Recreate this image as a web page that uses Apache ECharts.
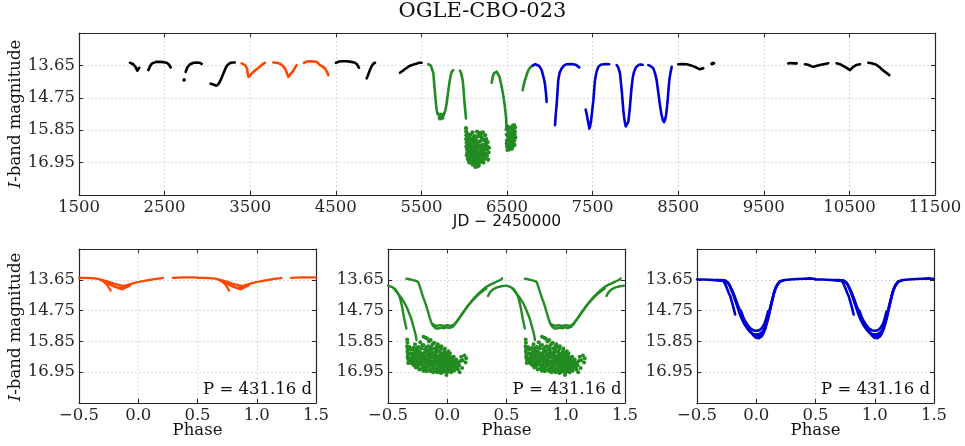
<!DOCTYPE html>
<html><head><meta charset="utf-8">
<script src="https://cdn.jsdelivr.net/npm/echarts@6/dist/echarts.min.js"></script>
<style>html,body{margin:0;padding:0;background:#fff}#c{width:965px;height:446px}</style>
</head><body><div id="c"></div>
<script>
// ---------------- DATA ----------------
const chartTitle = 'OGLE-CBO-023';
const periodText = 'P = 431.16 d';
const jdAxisName = 'JD \u2212 2450000';
const phaseAxisName = 'Phase';

// Top panel: JD-2450000 vs I magnitude, segments per colour
const blk1 = [[2096,13.56],[2130,13.60],[2160,13.70],[2181,13.83],[2195,13.78],[2204,13.73]];
const blk2 = [[2310,13.81],[2330,13.68],[2350,13.59],[2368,13.55],[2400,13.53],[2446,13.53],[2490,13.54],[2524,13.56],[2550,13.62],[2571,13.72]];
const blk3 = [[2727,14.15],[2729,14.13]];
const blk4 = [[2746,13.87],[2765,13.72],[2797,13.61],[2840,13.56],[2875,13.55],[2910,13.56],[2933,13.60]];
const blk5 = [[3038,14.27],[3070,14.30],[3105,14.34],[3130,14.28],[3150,14.18],[3170,14.04],[3190,13.90],[3210,13.76],[3230,13.65],[3260,13.58],[3290,13.55],[3320,13.55]];
const blk6 = [[4502,13.56],[4540,13.52],[4580,13.51],[4627,13.51],[4680,13.53],[4724,13.56],[4750,13.62],[4771,13.73]];
const blk7 = [[4861,14.09],[4880,13.95],[4900,13.80],[4919,13.67],[4940,13.59],[4958,13.56]];
const blk8 = [[5250,13.90],[5280,13.84],[5320,13.75],[5360,13.67],[5400,13.63],[5440,13.59],[5475,13.56],[5503,13.56]];
const blk9 = [[8501,13.61],[8550,13.60],[8599,13.61],[8650,13.65],[8696,13.70],[8730,13.75],[8754,13.78],[8775,13.77],[8793,13.75]];
const blk10 = [[8895,13.59],[8912,13.58]];
const blk11 = [[9786,13.58],[9820,13.57],[9850,13.58],[9884,13.58]];
const blk12 = [[9981,13.61],[10020,13.63],[10050,13.67],[10078,13.70],[10110,13.67],[10156,13.64],[10200,13.61],[10253,13.58]];
const blk13 = [[10351,13.58],[10400,13.62],[10448,13.70],[10480,13.76],[10507,13.81],[10525,13.75],[10545,13.70],[10580,13.64],[10624,13.61]];
const blk14 = [[10721,13.56],[10760,13.58],[10799,13.61],[10830,13.66],[10857,13.72],[10885,13.80],[10916,13.87],[10940,13.92],[10966,13.98]];

const org1 = [[3400,13.58],[3440,13.64],[3462,13.75],[3472,13.95],[3480,14.04],[3510,13.95],[3545,13.85],[3580,13.77],[3614,13.69],[3645,13.61],[3673,13.56]];
const org2 = [[3770,13.55],[3810,13.56],[3848,13.59],[3880,13.66],[3907,13.76],[3930,13.92],[3945,14.04],[3975,13.93],[4004,13.83],[4025,13.72],[4043,13.64]];
const org3 = [[4128,13.56],[4160,13.52],[4199,13.51],[4240,13.52],[4277,13.53],[4300,13.58],[4315,13.64],[4345,13.69],[4374,13.75],[4395,13.86],[4413,13.98]];

const grn1 = [[5581,13.61],[5610,13.66],[5628,13.72],[5640,13.92],[5650,14.30],[5659,14.60],[5670,14.95],[5678,15.17],[5690,15.30],[5698,15.36],[5720,15.40],[5737,15.40],[5755,15.38],[5768,15.33],[5782,15.15],[5795,14.94],[5810,14.60],[5826,14.26],[5840,14.02],[5854,13.87],[5872,13.81]];
const grn2 = [[5951,13.83],[5965,13.92],[5982,14.15],[5992,14.45],[6001,14.83],[6011,15.15],[6021,15.45]];
const grn3 = [[6321,14.24],[6335,14.02],[6348,13.92],[6365,13.87],[6379,13.86],[6395,13.92],[6410,14.02],[6425,14.20],[6438,14.38],[6452,14.60],[6465,14.83],[6477,15.10],[6488,15.40],[6496,15.80]];
const grn4 = [[6683,14.49],[6695,14.32],[6710,14.15],[6730,13.97],[6749,13.81],[6770,13.72],[6789,13.67],[6800,13.65]];
const grnBottomTop = [[5695,15.28],[5705,15.44],[5715,15.47],[5725,15.30],[5735,15.46],[5745,15.32],[5752,15.44],[5765,15.28]];
const grnCloud1 = [[6021,15.78],[6023,15.90],[6025,16.02],[6022,16.15],[6028,16.28],[6026,16.40],[6032,16.50],[6036,16.62],[6040,16.35],[6045,16.10],[6048,16.75],[6055,16.45],[6058,16.22],[6064,16.85],[6068,16.58],[6072,16.00],[6076,16.32],[6082,16.95],[6086,16.68],[6090,16.18],[6095,16.45],[6100,17.02],[6104,16.80],[6108,16.28],[6112,16.58],[6117,16.05],[6121,16.90],[6126,16.40],[6130,17.10],[6134,16.70],[6138,16.15],[6143,16.52],[6147,16.95],[6152,16.30],[6156,16.82],[6160,16.05],[6165,16.62],[6170,17.05],[6174,16.42],[6178,15.95],[6183,16.75],[6188,16.22],[6193,16.90],[6197,16.50],[6202,16.10],[6207,16.68],[6212,16.35],[6217,15.92],[6222,16.58],[6228,16.80],[6233,16.20],[6238,16.45],[6244,16.02],[6250,16.65],[6255,16.30],[6262,16.50],[6270,16.40],[6285,16.60],[6052,16.88],[6080,16.55],[6115,16.78],[6140,16.88],[6185,16.62],[6215,16.85],[6240,16.70],
[6030,16.70],[6034,16.18],[6038,15.98],[6042,16.82],[6046,16.55],[6050,16.25],[6054,16.62],[6058,16.95],[6062,16.38],[6066,16.12],[6070,16.72],[6074,16.48],[6078,16.88],[6084,16.25],[6088,16.42],[6092,16.78],[6096,16.62],[6102,16.38],[6106,16.12],[6110,16.92],[6114,16.48],[6119,16.68],[6124,16.22],[6128,16.85],[6132,16.55],[6136,16.98],[6141,16.38],[6145,16.72],[6150,16.58],[6154,17.08],[6158,16.45],[6162,16.88],[6167,16.25],[6172,16.75],[6176,16.60],[6180,16.95],[6186,16.38],[6190,16.05],[6195,16.70],[6200,16.85],[6205,16.40],[6210,16.58],[6220,16.15],[6225,16.95],[6230,16.55],[6236,16.35],[6242,16.82],[6248,16.48],[6258,16.15],[6266,16.72],[6275,16.25],[6280,16.85],[6290,16.45],[6043,16.45],[6060,16.05],[6098,15.92],[6150,15.90],[6200,15.96]];
const grnCloud2 = [[6496,15.82],[6498,16.00],[6500,16.20],[6502,16.40],[6505,16.52],[6510,16.30],[6514,16.10],[6518,15.90],[6522,16.45],[6526,16.22],[6530,15.98],[6535,16.35],[6540,15.78],[6545,16.15],[6550,16.42],[6555,15.92],[6560,16.28],[6565,15.70],[6570,16.05],[6575,16.38],[6580,15.85],[6585,16.20],[6590,16.00],[6594,15.75],
[6497,16.30],[6503,15.72],[6507,16.00],[6512,16.45],[6516,16.25],[6520,15.75],[6524,16.05],[6528,16.50],[6533,16.15],[6538,16.42],[6542,15.95],[6548,16.28],[6552,16.05],[6558,16.48],[6562,16.15],[6568,15.85],[6572,16.25],[6578,16.05],[6583,15.68],[6588,16.35],[6592,15.90],[6597,16.10]];

const blu1 = [[6800,13.66],[6815,13.63],[6830,13.61],[6846,13.62],[6870,13.66],[6890,13.73],[6905,13.81],[6920,13.98],[6935,14.15],[6944,14.30],[6955,14.58],[6963,14.89]];
const blu2 = [[7061,15.68],[7070,15.30],[7081,14.94],[7090,14.55],[7099,14.15],[7115,13.90],[7139,13.75],[7165,13.66],[7197,13.61],[7240,13.60],[7275,13.61],[7310,13.64],[7345,13.72]];
const blu3 = [[7419,15.15],[7431,15.30],[7440,15.45],[7450,15.60],[7462,15.80],[7472,15.70],[7481,15.55],[7495,15.20],[7509,14.83],[7518,14.50],[7528,14.15],[7545,13.88],[7567,13.70],[7595,13.63],[7625,13.61],[7660,13.60],[7695,13.61]];
const blu4 = [[7781,13.64],[7800,13.72],[7820,13.92],[7830,14.20],[7840,14.49],[7850,14.85],[7859,15.17],[7868,15.40],[7878,15.60],[7888,15.72],[7897,15.78],[7907,15.72],[7917,15.57],[7926,15.35],[7936,15.06],[7946,14.70],[7956,14.38],[7970,14.05],[7984,13.87],[8005,13.72],[8034,13.64],[8060,13.62],[8085,13.63]];
const blu5 = [[8151,13.64],[8180,13.68],[8209,13.75],[8230,13.92],[8248,14.15],[8262,14.45],[8279,14.83],[8292,15.10],[8306,15.34],[8320,15.50],[8334,15.58],[8346,15.50],[8358,15.34],[8368,15.10],[8377,14.83],[8386,14.50],[8396,14.15],[8410,13.90],[8424,13.70]];

// Phase panels (phase in [-0.5,0.5), drawn again at phase+1)
const orgPhA = [[-0.5,13.58],[-0.45,13.58],[-0.4,13.59],[-0.35,13.61],[-0.3,13.66],[-0.25,13.72],[-0.2,13.79],[-0.15,13.85],[-0.12,13.87],[-0.08,13.82],[-0.04,13.77],[0,13.73],[0.05,13.69],[0.1,13.65],[0.15,13.62],[0.2,13.59],[0.21,13.58]];
const orgPhB = [[0.29,13.58],[0.33,13.57],[0.38,13.56],[0.43,13.56],[0.48,13.56],[0.499,13.57]];
const orgPhC = [[-0.32,13.65],[-0.29,13.72],[-0.26,13.84],[-0.245,13.95],[-0.233,14.04]];
const orgPhD = [[-0.3,13.68],[-0.25,13.80],[-0.2,13.90],[-0.16,13.96],[-0.135,13.99],[-0.1,13.92],[-0.07,13.86]];
const orgPhE = [[-0.28,13.70],[-0.22,13.84],[-0.18,13.92],[-0.14,13.93],[-0.1,13.88],[-0.06,13.81]];

const grnPhA = [[-0.5,13.86],[-0.47,13.90],[-0.44,13.98],[-0.42,14.10],[-0.40,14.28],[-0.387,14.50],[-0.375,14.75],[-0.365,15.00],[-0.355,15.20],[-0.345,15.39]];
const grnPhB = [[-0.45,13.96],[-0.42,14.12],[-0.39,14.28],[-0.36,14.48],[-0.34,14.65],[-0.32,14.86],[-0.302,15.06],[-0.288,15.28],[-0.275,15.48],[-0.265,15.65],[-0.26,15.80]];
const grnPhT = [[-0.345,13.61],[-0.32,13.63],[-0.29,13.66],[-0.265,13.69],[-0.247,13.72],[-0.235,13.85],[-0.22,14.05],[-0.205,14.25],[-0.19,14.42],[-0.176,14.60],[-0.162,14.80],[-0.148,15.00],[-0.135,15.17],[-0.12,15.30],[-0.10,15.38],[-0.078,15.39],[-0.05,15.36],[-0.03,15.38],[-0.007,15.35],[0.02,15.37],[0.049,15.32],[0.075,15.18],[0.105,15.00],[0.135,14.82],[0.162,14.65],[0.19,14.50],[0.217,14.35],[0.245,14.22],[0.274,14.10],[0.30,14.00],[0.33,13.90],[0.36,13.83],[0.386,13.78],[0.42,13.71],[0.457,13.64],[0.462,13.60]];
const grnPhT2 = [[-0.12,15.24],[-0.09,15.30],[-0.06,15.27],[-0.03,15.30],[0.0,15.27],[0.03,15.30],[0.06,15.24],[0.09,15.08],[0.12,14.90],[0.15,14.72],[0.18,14.55],[0.21,14.40],[0.24,14.27],[0.27,14.15],[0.30,14.05],[0.33,13.95]];
const grnPhU = [[0.344,14.23],[0.36,14.10],[0.386,13.99],[0.42,13.92],[0.457,13.88],[0.49,13.86]];
const grnPhCloud = [[-0.338,15.78],[-0.336,15.90],[-0.339,16.02],[-0.335,16.12],[-0.337,16.22],[-0.333,16.33],[-0.334,16.42],[-0.328,16.50],[-0.322,16.56],[-0.312,16.60],[-0.30,16.63],
[-0.318,16.05],[-0.309,16.28],[-0.305,16.45],[-0.296,16.12],[-0.291,16.37],[-0.287,16.55],[-0.282,16.70],[-0.278,16.22],[-0.272,15.95],[-0.268,16.48],[-0.262,16.62],[-0.258,16.30],[-0.251,16.08],[-0.247,16.75],[-0.243,16.52],[-0.238,16.20],[-0.232,16.40],[-0.228,15.88],[-0.224,16.65],[-0.219,16.10],[-0.214,16.82],[-0.21,16.35],[-0.205,16.55],[-0.20,15.98],[-0.196,16.72],[-0.191,16.25],[-0.187,16.45],[-0.182,15.72],[-0.178,16.60],[-0.173,16.05],[-0.169,16.88],[-0.164,16.33],[-0.16,16.50],[-0.155,15.85],[-0.151,16.70],[-0.146,16.15],[-0.142,16.42],[-0.138,16.92],[-0.133,16.27],[-0.129,16.60],[-0.124,15.95],[-0.12,16.78],[-0.115,16.38],[-0.111,16.52],[-0.106,16.10],[-0.102,16.85],[-0.097,16.30],[-0.093,16.66],[-0.088,16.02],[-0.084,16.95],[-0.079,16.45],[-0.075,16.20],[-0.07,16.75],[-0.066,16.55],[-0.061,16.35],[-0.057,16.88],[-0.052,16.12],[-0.048,16.62],[-0.043,16.42],[-0.039,16.95],[-0.034,16.28],[-0.03,16.72],[-0.025,16.50],[-0.021,16.85],[-0.016,16.35],[-0.012,16.62],[-0.007,17.05],[-0.003,16.45],[0.002,16.80],[0.006,16.55],[0.011,16.92],[0.015,16.38],[0.02,16.70],[0.025,16.50],[0.03,16.85],[0.035,16.62],[0.04,16.42],[0.046,16.75],[0.052,16.55],[0.058,16.90],[0.064,16.68],
[0.075,16.50],[0.085,16.78],[0.095,16.60],[0.105,16.95],[0.118,16.40],[0.13,16.52],[0.145,16.35],[0.155,16.60],[0.16,16.45],
[-0.20,15.68],[-0.17,15.75],[-0.14,15.80],[-0.11,15.90],[-0.08,15.95],[-0.05,16.02],[-0.02,16.10],[0.01,16.20],
[-0.29,16.45],[-0.265,16.78],[-0.245,16.35],[-0.225,16.48],[-0.203,16.78],[-0.185,16.62],[-0.165,16.72],[-0.148,16.28],[-0.128,16.82],[-0.108,16.68],[-0.09,16.50],[-0.072,16.62],[-0.055,16.75],[-0.036,16.58],[-0.018,16.70],[0.0,16.62],[0.018,16.55],[0.038,16.80],[-0.255,16.18],[-0.215,16.28],[-0.175,16.20],[-0.135,16.15],[-0.095,16.22],[-0.06,16.25],
[-0.33,16.62],[-0.325,16.30],[-0.318,16.45],[-0.31,16.15],[-0.302,16.52],[-0.298,16.30],[-0.292,16.60],[-0.284,16.08],[-0.28,16.45],[-0.274,16.62],[-0.27,16.32],[-0.264,16.10],[-0.26,16.40],[-0.254,16.68],[-0.25,16.52],[-0.244,16.05],[-0.24,16.65],[-0.236,16.85],[-0.23,16.25],[-0.226,16.55],[-0.22,16.38],[-0.216,16.68],[-0.212,16.00],[-0.207,16.45],[-0.202,16.90],[-0.198,16.32],[-0.193,16.58],[-0.189,16.12],[-0.184,16.80],[-0.18,16.40],[-0.176,16.92],[-0.171,16.50],[-0.167,16.18],[-0.162,16.75],[-0.158,16.02],[-0.153,16.60],[-0.149,16.38],[-0.144,16.85],[-0.14,16.55],[-0.136,16.05],[-0.131,16.72],[-0.127,16.42],[-0.122,16.25],[-0.118,16.95],[-0.113,16.58],[-0.109,16.35],[-0.104,16.75],[-0.10,16.48],[-0.095,16.90],[-0.091,16.15],[-0.086,16.60],[-0.082,16.38],[-0.077,16.82],[-0.073,16.05],[-0.068,16.92],[-0.064,16.70],[-0.059,16.48],[-0.054,16.98],[-0.05,16.30],[-0.045,16.80],[-0.041,16.55],[-0.036,16.88],[-0.032,16.42],[-0.027,16.65],[-0.023,16.20],[-0.018,16.92],[-0.014,16.52],[-0.009,16.78],[-0.005,16.30],[0.0,16.95],[0.004,16.68],[0.008,16.42],[0.013,16.75],[0.018,16.88],[0.023,16.28],[0.028,16.62],[0.033,16.95],[0.038,16.50],[0.043,16.85],[0.049,16.65],[0.055,16.40],[0.061,16.80],[0.068,16.55],[0.072,16.72],[0.08,16.62],[0.09,16.85],[0.10,16.70],[0.11,16.55],[0.125,16.80]];

const bluPhA = [[-0.5,13.64],[-0.45,13.64],[-0.4,13.65],[-0.35,13.66],[-0.3,13.67],[-0.26,13.70],[-0.235,13.78],[-0.22,13.88],[-0.2,14.05],[-0.178,14.29],[-0.156,14.55],[-0.136,14.77],[-0.12,14.95],[-0.108,15.06],[-0.09,15.20],[-0.066,15.35],[-0.045,15.52],[-0.024,15.62],[-0.005,15.72],[0.005,15.75],[0.02,15.74],[0.035,15.70],[0.047,15.66],[0.062,15.55],[0.075,15.42],[0.09,15.20],[0.103,15.00],[0.117,14.72],[0.131,14.47],[0.145,14.20],[0.159,13.99],[0.18,13.80],[0.201,13.70],[0.24,13.66],[0.285,13.64],[0.35,13.62],[0.40,13.61],[0.454,13.60],[0.499,13.62]];
const bluPhB = [[-0.3,13.66],[-0.26,13.68],[-0.24,13.74],[-0.225,13.85],[-0.21,14.00],[-0.19,14.20],[-0.17,14.45],[-0.15,14.70],[-0.13,14.95],[-0.11,15.15],[-0.09,15.30],[-0.07,15.42],[-0.05,15.52],[-0.03,15.58],[-0.01,15.60],[0.01,15.60],[0.03,15.58],[0.05,15.52],[0.065,15.42],[0.08,15.25],[0.095,15.05],[0.11,14.82],[0.125,14.55],[0.14,14.30],[0.155,14.05],[0.175,13.85],[0.20,13.72],[0.23,13.67]];
const bluPhC = [[-0.22,13.90],[-0.2,14.10],[-0.18,14.35],[-0.16,14.60],[-0.14,14.85],[-0.12,15.05],[-0.1,15.20],[-0.08,15.32],[-0.06,15.45],[-0.04,15.55],[-0.02,15.65],[0.0,15.68],[0.02,15.66],[0.04,15.60],[0.06,15.50],[0.075,15.35],[0.09,15.12],[0.105,14.88],[0.12,14.60],[0.135,14.35],[0.15,14.10],[0.17,13.88],[0.19,13.76]];
const bluPhD = [[-0.33,13.66],[-0.30,13.67],[-0.276,13.70],[-0.26,13.82],[-0.245,13.98],[-0.232,14.12],[-0.22,14.23],[-0.205,14.45],[-0.19,14.68],[-0.178,14.89]];
const bluPhE = [[-0.13,14.75],[-0.11,14.98],[-0.09,15.15],[-0.07,15.28],[-0.05,15.38],[-0.03,15.44],[-0.01,15.47],[0.01,15.47],[0.03,15.44],[0.05,15.36],[0.07,15.22],[0.085,15.02],[0.10,14.78]];

// ---------------- CHART ----------------
const C_BLK = '#000000', C_ORG = '#ff4500', C_GRN = '#228b22', C_BLU = '#0000cd';
const SERIF = 'DejaVu Serif', SANS = 'DejaVu Sans';
const AX = '#262626';
const FS = 16.5;

const grids = [
  {left: 79, top: 33, width: 856, height: 162},
  {left: 79, top: 249, width: 237, height: 154},
  {left: 388, top: 249, width: 237, height: 154},
  {left: 697, top: 249, width: 237, height: 154}
].map(g => Object.assign({containLabel: false, outerBoundsMode: 'none'}, g));

function xAx(g, min, max, interval, fmt, mirror) {
  return {type: 'value', gridIndex: g, min, max, interval, position: mirror ? 'top' : 'bottom',
    axisLine: {show: true, onZero: false, lineStyle: {color: AX, width: 1.2}},
    axisTick: {show: true, inside: true, length: 4, lineStyle: {color: AX, width: 1}},
    axisLabel: {show: !mirror, formatter: fmt, color: AX, fontFamily: SERIF, fontSize: FS, margin: 4,
      showMinLabel: true, showMaxLabel: true, hideOverlap: false},
    splitLine: {show: !mirror, lineStyle: {color: '#d0d0d0', type: [2, 2], width: 0.8}}};
}
function yAx(g, mirror) {
  return {type: 'value', gridIndex: g, min: 12.55, max: 18.05, interval: 1.1, inverse: true,
    position: mirror ? 'right' : 'left',
    axisLine: {show: true, onZero: false, lineStyle: {color: AX, width: 1.2}},
    axisTick: {show: true, inside: true, length: 4, lineStyle: {color: AX, width: 1}},
    axisLabel: {show: !mirror, color: AX, fontFamily: SERIF, fontSize: FS, margin: 4,
      showMinLabel: false, showMaxLabel: false, hideOverlap: false,
      formatter: v => (Math.abs(v - 12.55) < 1e-6 || Math.abs(v - 18.05) < 1e-6) ? '' : v.toFixed(2)},
    splitLine: {show: !mirror, lineStyle: {color: '#d0d0d0', type: [2, 2], width: 0.8}}};
}
const jdFmt = v => String(Math.round(v));
const phFmt = v => (v < -1e-9 ? '\u2212' : '') + Math.abs(v).toFixed(1);

const xAxes = [], yAxes = [];
for (let g = 0; g < 4; g++) {
  const top = g === 0;
  xAxes.push(xAx(g, top ? 1500 : -0.5, top ? 11500 : 1.5, top ? 1000 : 0.5, top ? jdFmt : phFmt, false));
  xAxes.push(xAx(g, top ? 1500 : -0.5, top ? 11500 : 1.5, top ? 1000 : 0.5, top ? jdFmt : phFmt, true));
  yAxes.push(yAx(g, false));
  yAxes.push(yAx(g, true));
}

const series = [];
function addLine(g, data, color, w) {
  series.push({type: 'line', xAxisIndex: 2 * g, yAxisIndex: 2 * g, data, showSymbol: false, symbol: 'none',
    silent: true, lineStyle: {color, width: w || 2.6, cap: 'round', join: 'round'}, z: 3});
}
function addScatter(g, data, color, s) {
  series.push({type: 'scatter', xAxisIndex: 2 * g, yAxisIndex: 2 * g, data, symbol: 'circle',
    symbolSize: s || 3, silent: true, itemStyle: {color, opacity: 1}, z: 3});
}
const shift1 = arr => arr.map(p => [p[0] + 1, p[1]]);
function addPhaseLine(g, data, color, w) { addLine(g, data, color, w); addLine(g, shift1(data), color, w); }
function addPhaseScatter(g, data, color, s) { addScatter(g, data, color, s); addScatter(g, shift1(data), color, s); }

// top
[blk1, blk2, blk4, blk5, blk6, blk7, blk8, blk9, blk11, blk12, blk13, blk14].forEach(s => addLine(0, s, C_BLK));
addScatter(0, blk3, C_BLK, 3); addScatter(0, blk10, C_BLK, 3.5);
[org1, org2, org3].forEach(s => addLine(0, s, C_ORG));
[grn1, grn2, grn3, grn4].forEach(s => addLine(0, s, C_GRN));
addScatter(0, grnBottomTop, C_GRN, 3);
addScatter(0, grnCloud1, C_GRN, 4.2);
addScatter(0, grnCloud2, C_GRN, 4.2);
[blu1, blu2, blu3, blu4, blu5].forEach(s => addLine(0, s, C_BLU));

// phase panels
[orgPhA, orgPhB, orgPhC, orgPhD, orgPhE].forEach(s => addPhaseLine(1, s, C_ORG, 2.2));
[grnPhA, grnPhB, grnPhT, grnPhT2, grnPhU].forEach(s => addPhaseLine(2, s, C_GRN, 2.4));
addPhaseScatter(2, grnPhCloud, C_GRN, 4);
[bluPhA, bluPhB, bluPhC, bluPhD, bluPhE].forEach(s => addPhaseLine(3, s, C_BLU, 2.6));

function txt(x, y, text, opts) {
  return Object.assign({type: 'text', x, y, silent: true, z: 10,
    style: Object.assign({text, fill: '#111', fontFamily: SERIF, fontSize: FS, align: 'center', verticalAlign: 'middle'}, opts.style || {})},
    opts.el || {});
}
const ylab = (x, y) => ({type: 'text', x, y, rotation: Math.PI / 2, silent: true, z: 10,
  style: {text: '{i|I}-band magnitude', fill: '#111', fontFamily: SERIF, fontSize: FS, align: 'center', verticalAlign: 'middle',
    rich: {i: {fontStyle: 'italic', fontFamily: SERIF, fontSize: FS, fill: '#111'}}}});

const graphic = [
  txt(482.5, 12, chartTitle, {style: {fontSize: 21}}),
  txt(507, 222, jdAxisName, {style: {fontFamily: SANS, fontSize: 15.5}}),
  ylab(16, 114), ylab(16, 327),
  txt(197.5, 431, phaseAxisName, {}), txt(506.5, 431, phaseAxisName, {}), txt(815.5, 431, phaseAxisName, {}),
  txt(312, 390, periodText, {style: {align: 'right'}}),
  txt(621.5, 390, periodText, {style: {align: 'right'}}),
  txt(930, 390, periodText, {style: {align: 'right'}})
];

const chart = echarts.init(document.getElementById('c'), null, {renderer: 'canvas'});
chart.setOption({animation: false, backgroundColor: '#fff', grid: grids, xAxis: xAxes, yAxis: yAxes, series, graphic});
</script></body></html>
